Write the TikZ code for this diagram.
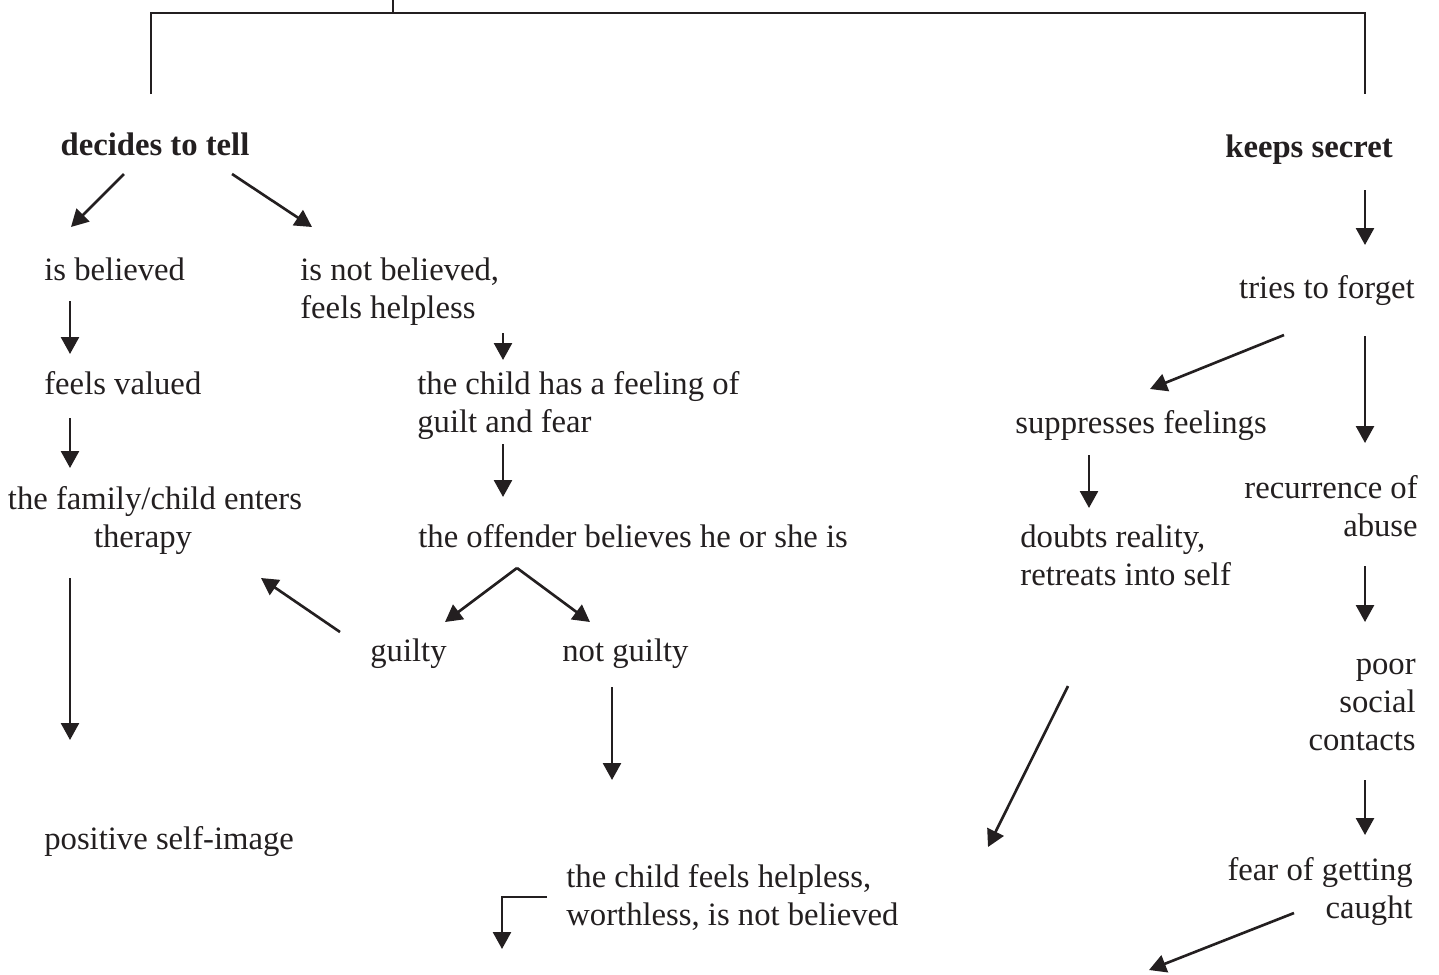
\documentclass[tikz,border=0pt]{standalone}
\usepackage{fontspec}
\setmainfont{Liberation Serif}
\usetikzlibrary{arrows.meta}
\definecolor{ink}{RGB}{35,31,32}

\begin{document}
\begin{tikzpicture}[x=0.02cm,y=-0.02cm,
  lbl/.style={inner sep=0pt,text=ink,font=\fontsize{18.6}{21.8}\selectfont,execute at begin node=\strut},
  head/.style={lbl,font=\fontsize{18.6}{21.8}\selectfont\bfseries},
  arr/.style={draw=ink,line width=1.5pt,-{Triangle[length=0.34cm,width=0.36cm]}},
  rule/.style={draw=ink,line width=1.1pt}]
\useasboundingbox (0,0) rectangle (1439,974);
\coordinate (root) at (393,0);
\coordinate (joint) at (393,13);
\coordinate (lbar) at (151,94);
\coordinate (rbar) at (1365,94);
\draw[rule] (root) -- (joint);
\draw[rule] (lbar) -- (lbar |- joint) -- (rbar |- joint) -- (rbar);
\node[head,anchor=north] (tell) at (155,128) {decides to tell};
\node[head,anchor=north] (secret) at (1309,130) {keeps secret};
\node[lbl,anchor=north west] (believed) at (44,253) {is believed};
\node[lbl,anchor=north west,align=left] (notbelieved) at (300,253) {\strut is not believed,\\feels helpless};
\node[lbl,anchor=north west] (valued) at (44,367) {feels valued};
\node[lbl,anchor=north west,align=left] (guiltfear) at (417,367) {\strut the child has a feeling of\\guilt and fear};
\node[lbl,anchor=north,align=center] (therapy) at (155,482) {\strut the family/child enters\\therapy\hspace*{0.48cm}};
\node[lbl,anchor=north west] (offender) at (418,520) {the offender believes he or she is};
\node[lbl,anchor=north west] (guilty) at (370,634) {guilty};
\node[lbl,anchor=north west] (notguilty) at (562,634) {not guilty};
\node[lbl,anchor=north west] (selfimage) at (44,822) {positive self-image};
\node[lbl,anchor=north west,align=left] (helpless) at (566,860) {\strut the child feels helpless,\\worthless, is not believed};
\node[lbl,anchor=north east] (forget) at (1415,271) {tries to forget};
\node[lbl,anchor=north west] (suppress) at (1015,406) {suppresses feelings};
\node[lbl,anchor=north east,align=right] (recur) at (1418,471) {\strut recurrence of\\abuse};
\node[lbl,anchor=north west,align=left] (doubts) at (1020,520) {\strut doubts reality,\\retreats into self};
\node[lbl,anchor=north east,align=right] (poor) at (1416,647) {\strut poor\\social\\contacts};
\node[lbl,anchor=north east,align=right] (fear) at (1413,853) {\strut fear of getting\\caught};
\coordinate (tell-sw) at (124,174);
\coordinate (believed-in) at (71,227);
\coordinate (tell-se) at (232,174);
\coordinate (notbelieved-in) at (312,227);
\coordinate (believed-out) at (70,301);
\coordinate (valued-in) at (70,354);
\coordinate (notbelieved-out) at (503,333);
\coordinate (guiltfear-in) at (503,360);
\coordinate (valued-out) at (70,418);
\coordinate (therapy-in) at (70,468);
\coordinate (guiltfear-out) at (503,444);
\coordinate (offender-in) at (503,497);
\coordinate (fork) at (517,568);
\coordinate (guilty-in) at (445,622);
\coordinate (notguilty-in) at (590,622);
\coordinate (guilty-out) at (340,632);
\coordinate (therapy-back) at (261,578);
\coordinate (therapy-out) at (70,578);
\coordinate (selfimage-in) at (70,740);
\coordinate (notguilty-out) at (612,687);
\coordinate (helpless-in) at (612,780);
\coordinate (helpless-out) at (547,897);
\coordinate (helpless-end) at (502,949);
\coordinate (secret-out) at (1365,190);
\coordinate (forget-in) at (1365,245);
\coordinate (forget-sw) at (1284,335);
\coordinate (suppress-in) at (1150,389);
\coordinate (forget-s) at (1365,336);
\coordinate (recur-in) at (1365,443);
\coordinate (suppress-out) at (1089,455);
\coordinate (doubts-in) at (1089,508);
\coordinate (recur-out) at (1365,566);
\coordinate (poor-in) at (1365,622);
\coordinate (doubts-out) at (1068,686);
\coordinate (doubts-end) at (988,847);
\coordinate (poor-out) at (1365,780);
\coordinate (fear-in) at (1365,835);
\coordinate (fear-out) at (1294,913);
\coordinate (fear-end) at (1149,970);
\draw[arr] (tell-sw) -- (believed-in);
\draw[arr] (tell-se) -- (notbelieved-in);
\draw[arr] (believed-out) -- (valued-in);
\draw[arr] (notbelieved-out) -- (guiltfear-in);
\draw[arr] (valued-out) -- (therapy-in);
\draw[arr] (guiltfear-out) -- (offender-in);
\draw[arr] (fork) -- (guilty-in);
\draw[arr] (fork) -- (notguilty-in);
\draw[arr] (guilty-out) -- (therapy-back);
\draw[arr] (therapy-out) -- (selfimage-in);
\draw[arr] (notguilty-out) -- (helpless-in);
\draw[arr] (helpless-out) -| (helpless-end);
\draw[arr] (secret-out) -- (forget-in);
\draw[arr] (forget-sw) -- (suppress-in);
\draw[arr] (forget-s) -- (recur-in);
\draw[arr] (suppress-out) -- (doubts-in);
\draw[arr] (recur-out) -- (poor-in);
\draw[arr] (doubts-out) -- (doubts-end);
\draw[arr] (poor-out) -- (fear-in);
\draw[arr] (fear-out) -- (fear-end);
\end{tikzpicture}
\end{document}
